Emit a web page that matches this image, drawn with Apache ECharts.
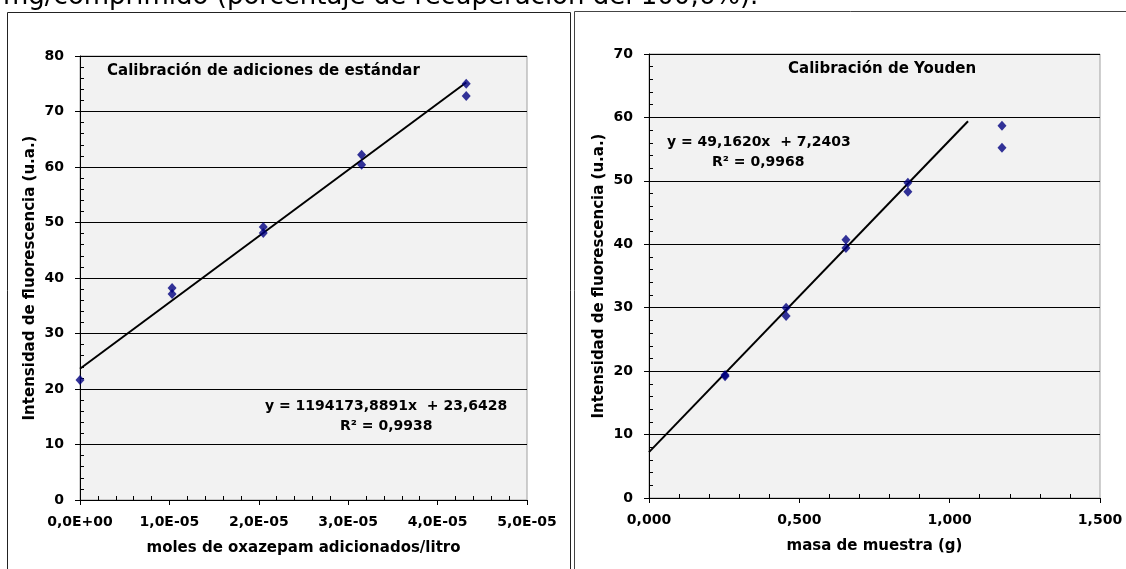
<!DOCTYPE html>
<html>
<head>
<meta charset="utf-8">
<script src="https://cdn.jsdelivr.net/npm/echarts@6/dist/echarts.min.js"></script>
<style>
  html, body { margin: 0; padding: 0; background: #fff; }
  #main { width: 1126px; height: 569px; }
</style>
</head>
<body>
<div id="main"></div>
<script>
// adiciones de estandar
var stdX = [0, 1.03e-5, 1.03e-5, 2.05e-5, 2.05e-5, 3.15e-5, 3.15e-5, 4.32e-5, 4.32e-5];
var stdY = [21.6, 38.2, 37.1, 49.2, 48.1, 62.2, 60.4, 75.0, 72.8];
var stdTrendX = [0, 4.32e-5];
var stdTrendY = [23.64, 75.23];
var stdTicks = ['0,0E+00', '1,0E-05', '2,0E-05', '3,0E-05', '4,0E-05', '5,0E-05'];

// Youden
var youX = [0.253, 0.253, 0.456, 0.456, 0.655, 0.655, 0.861, 0.861, 1.174, 1.174];
var youY = [19.2, 19.4, 30.0, 28.7, 40.7, 39.4, 49.7, 48.3, 58.7, 55.2];
var youTrendX = [0, 1.061];
var youTrendY = [7.24, 59.4];
var youTicks = ['0,000', '0,500', '1,000', '1,500'];

function pairs(xs, ys) {
    return xs.map(function (x, i) { return [x, ys[i]]; });
}

var font = '"DejaVu Sans", Verdana, sans-serif';
var lbl = { color: '#000', fontFamily: font, fontWeight: 'bold', fontSize: 14 };
var nameStyle = { color: '#000', fontFamily: font, fontWeight: 'bold', fontSize: 15 };

function mainX(grid, min, max, step, ticks, name) {
    return {
        type: 'value', gridIndex: grid, position: 'bottom', min: min, max: max, interval: step,
        name: name, nameLocation: 'middle', nameGap: 41, nameTextStyle: nameStyle,
        axisLine: { show: true, onZero: false, lineStyle: { color: '#000', width: 1 } },
        axisTick: { show: true, length: 5, lineStyle: { color: '#000' } },
        axisLabel: Object.assign({ margin: 15, formatter: function (v) {
            return ticks[Math.round(v / step)];
        } }, lbl),
        splitLine: { show: false }
    };
}
function minorX(grid, min, max, step) {
    return {
        type: 'value', gridIndex: grid, position: 'bottom', min: min, max: max, interval: step,
        axisLine: { show: false }, axisLabel: { show: false }, splitLine: { show: false },
        axisTick: { show: false, inside: true },
        minorTick: { show: true, splitNumber: 5, length: 4, lineStyle: { color: '#000' } }
    };
}
function mainY(grid, max, name) {
    return {
        type: 'value', gridIndex: grid, position: 'left', min: 0, max: max, interval: 10,
        name: name, nameLocation: 'middle', nameGap: 42, nameTextStyle: nameStyle,
        axisLine: { show: true, onZero: false, lineStyle: { color: '#000', width: 1 } },
        axisTick: { show: true, length: 5, lineStyle: { color: '#000' } },
        axisLabel: Object.assign({ margin: 16 }, lbl),
        splitLine: { show: true, lineStyle: { color: '#000', width: 1 } }
    };
}
function minorY(grid, max) {
    return {
        type: 'value', gridIndex: grid, position: 'left', min: 0, max: max, interval: 10,
        axisLine: { show: false }, axisLabel: { show: false }, splitLine: { show: false },
        axisTick: { show: false, inside: true },
        minorTick: { show: true, splitNumber: 5, length: 4, lineStyle: { color: '#000' } }
    };
}

var chart = echarts.init(document.getElementById('main'), null, { renderer: 'canvas' });

var option = {
    animation: false,
    backgroundColor: '#fff',
    grid: [
        { left: 80, top: 56, width: 447, height: 444, show: true, backgroundColor: '#f2f2f2',
          borderColor: '#a0a0a0', borderWidth: 1, outerBoundsMode: 'none' },
        { left: 649, top: 54, width: 451, height: 444, show: true, backgroundColor: '#f2f2f2',
          borderColor: '#a0a0a0', borderWidth: 1, outerBoundsMode: 'none' }
    ],
    xAxis: [
        mainX(0, 0, 5e-5, 1e-5, stdTicks, 'moles de oxazepam adicionados/litro'),
        minorX(0, 0, 5e-5, 1e-5),
        mainX(1, 0, 1.5, 0.5, youTicks, 'masa de muestra (g)'),
        minorX(1, 0, 1.5, 0.5)
    ],
    yAxis: [
        mainY(0, 80, 'Intensidad de fluorescencia (u.a.)'),
        minorY(0, 80),
        mainY(1, 70, 'Intensidad de fluorescencia (u.a.)'),
        minorY(1, 70)
    ],
    series: [
        {
            type: 'line', xAxisIndex: 0, yAxisIndex: 0, data: pairs(stdTrendX, stdTrendY),
            symbol: 'none', lineStyle: { color: '#000', width: 2 }, z: 2
        },
        {
            type: 'scatter', xAxisIndex: 0, yAxisIndex: 0, data: pairs(stdX, stdY),
            symbol: 'diamond', symbolSize: [9, 10], itemStyle: { color: '#000080' }, z: 3
        },
        {
            type: 'line', xAxisIndex: 2, yAxisIndex: 2, data: pairs(youTrendX, youTrendY),
            symbol: 'none', lineStyle: { color: '#000', width: 2 }, z: 2
        },
        {
            type: 'scatter', xAxisIndex: 2, yAxisIndex: 2, data: pairs(youX, youY),
            symbol: 'diamond', symbolSize: [9, 10], itemStyle: { color: '#000080' }, z: 3
        }
    ],
    graphic: [
        // texto cortado arriba
        { type: 'text', left: 3, top: -16, style: { text: 'mg/comprimido (porcentaje de recuperación del 100,6%).',
            font: '26px ' + font, fill: '#000' } },
        // marcos
        { type: 'polyline', shape: { points: [[7.5, 569], [7.5, 12.5], [570.5, 12.5], [570.5, 569]] },
            style: { stroke: '#222', lineWidth: 1, fill: null } },
        { type: 'polyline', shape: { points: [[574.5, 569], [574.5, 11.5], [1126, 11.5]] },
            style: { stroke: '#444', lineWidth: 1, fill: null } },
        // titulos
        { type: 'text', left: 107, top: 64, style: { text: 'Calibración de adiciones de estándar',
            font: 'bold 15px ' + font, fill: '#000' } },
        { type: 'text', left: 788, top: 62, style: { text: 'Calibración de Youden',
            font: 'bold 15px ' + font, fill: '#000' } },
        // ecuaciones
        { type: 'text', left: 265, top: 399, style: { text: 'y = 1194173,8891x  + 23,6428',
            font: 'bold 14px ' + font, fill: '#000' } },
        { type: 'text', left: 340, top: 419, style: { text: 'R² = 0,9938',
            font: 'bold 14px ' + font, fill: '#000' } },
        { type: 'text', left: 667, top: 135, style: { text: 'y = 49,1620x  + 7,2403',
            font: 'bold 14px ' + font, fill: '#000' } },
        { type: 'text', left: 712, top: 155, style: { text: 'R² = 0,9968',
            font: 'bold 14px ' + font, fill: '#000' } }
    ]
};

chart.setOption(option);
window.addEventListener('resize', function () { chart.resize(); });
</script>
</body>
</html>
